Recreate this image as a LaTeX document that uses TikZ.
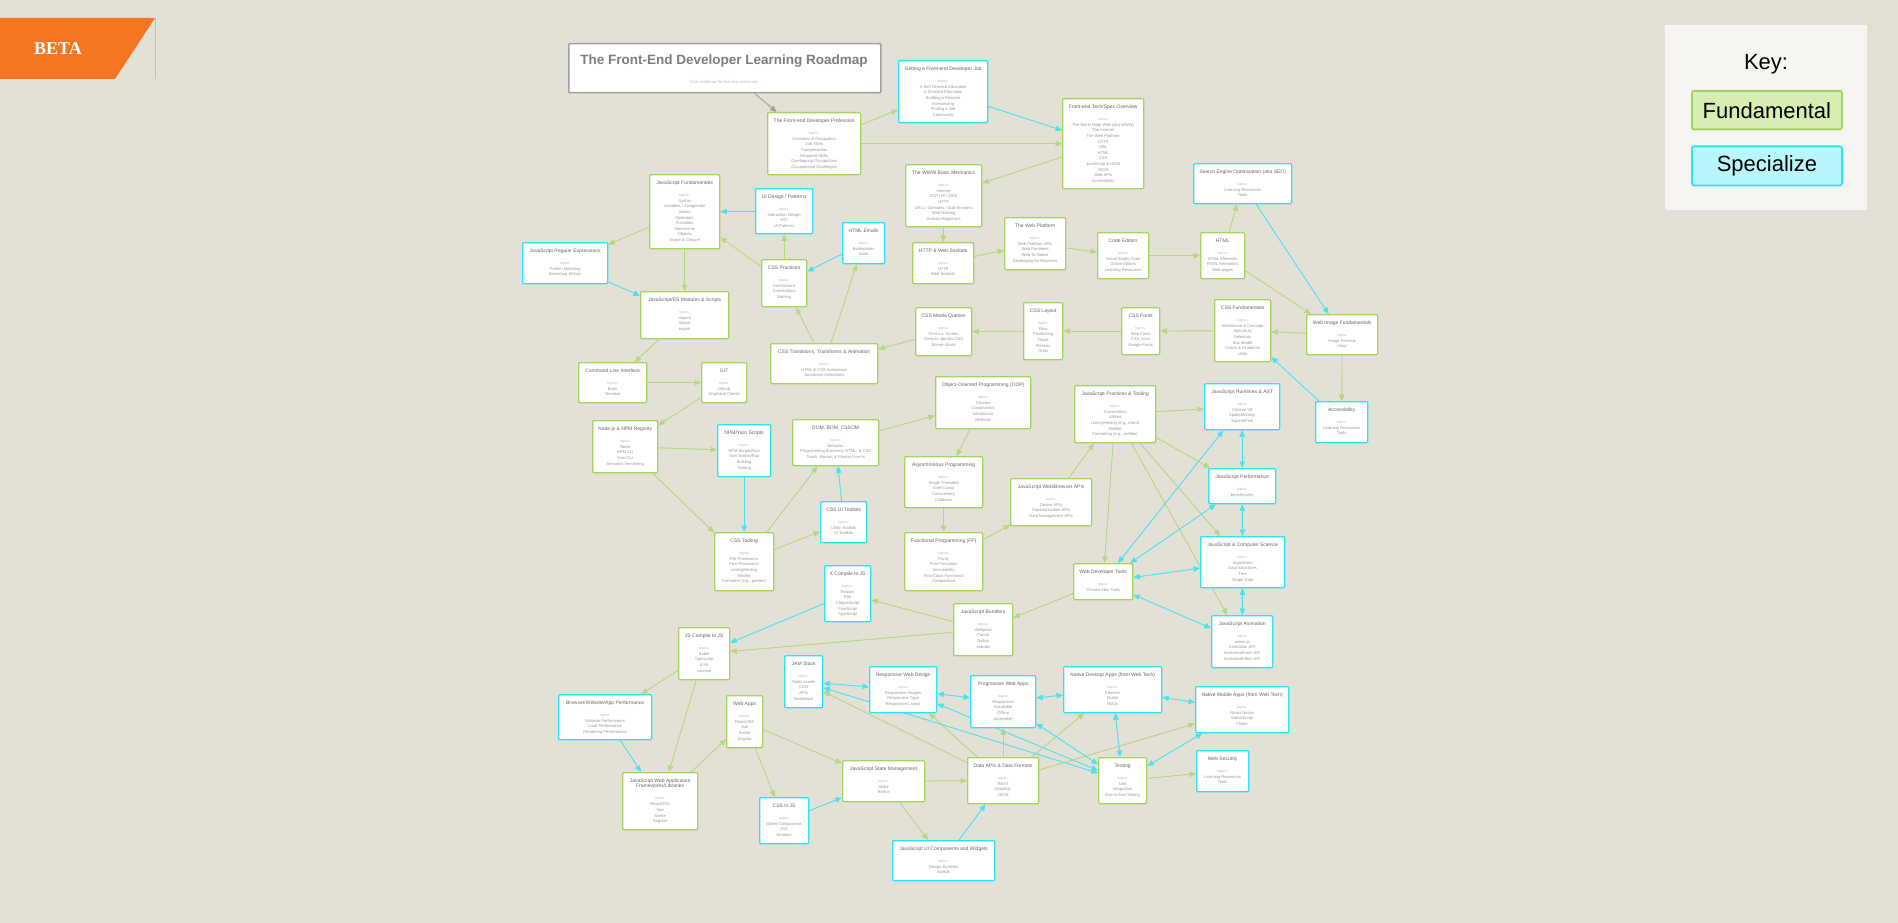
\documentclass[tikz,border=0pt]{standalone}
\usepackage{fontspec}
\setmainfont{Liberation Sans}
\newfontfamily\betafont{Liberation Serif}
\usetikzlibrary{arrows.meta}
\pgfdeclarelayer{canvas}
\pgfdeclarelayer{links}
\pgfsetlayers{canvas,links,main}

\definecolor{bgc}{RGB}{227,224,214}
\definecolor{keybg}{RGB}{246,245,241}
\definecolor{gbord}{RGB}{166,210,98}
\definecolor{cbord}{RGB}{40,228,245}
\definecolor{gedge}{RGB}{182,214,130}
\definecolor{cedge}{RGB}{72,226,240}
\definecolor{tedge}{RGB}{160,160,160}
\definecolor{ttlc}{RGB}{100,100,100}
\definecolor{tpcc}{RGB}{185,185,185}
\definecolor{itmc}{RGB}{150,150,150}
\definecolor{headc}{RGB}{125,125,125}
\definecolor{headb}{RGB}{160,160,160}
\definecolor{fundfill}{RGB}{214,238,178}
\definecolor{specfill}{RGB}{183,246,250}
\definecolor{betaorange}{RGB}{244,118,33}

% one roadmap card: style, name, x, y (top left), width, height, title, topics
\newcommand\rmnode[8]{%
  \node[#1, minimum width=#5pt, minimum height=#6pt] (#2) at (#3,#4)
    {\parbox[c][#6pt][t]{#5pt}{\centering\vspace*{6pt}%
      \fontsize{5}{5.5}\selectfont\color{ttlc}#7\par
      \fontsize{3.6}{12}\selectfont\color{tpcc}topics:\par\vspace{0.5pt}%
      \fontsize{4.1}{5.6}\selectfont\color{itmc}#8\par}};}

\begin{document}
\begin{tikzpicture}[x=1pt,y=-1pt,
  card/.style={draw, fill=white, line width=1.3pt, rounded corners=1pt,
    inner sep=0pt, anchor=north west},
  fund/.style={card, draw=gbord},
  spec/.style={card, draw=cbord},
  lk/.style={line width=0.9pt, -{Triangle[length=6.5pt,width=5.5pt]}},
  gl/.style={lk, draw=gedge},
  cl/.style={lk, draw=cedge},
  cd/.style={cl, {Triangle[length=6.5pt,width=5.5pt]}-{Triangle[length=6.5pt,width=5.5pt]}},
  tl/.style={lk, draw=tedge},
  keylabel/.style={font=\fontsize{22}{24}\selectfont, text=black}]

\begin{pgfonlayer}{canvas}
  \fill[bgc] (0,0) rectangle (1898,923);
\end{pgfonlayer}
\useasboundingbox (0,0) rectangle (1898,923);

% BETA ribbon
\fill[betaorange] (0,18) -- (155,18) -- (115,79) -- (0,79) -- cycle;
\draw[betaorange!60, line width=0.6pt] (155,18) -- (155,79);
\node[text=white, font=\betafont\bfseries\fontsize{18}{20}\selectfont] (beta) at (58,49) {BETA};

% key
\node[fill=keybg, minimum width=202pt, minimum height=185pt, inner sep=0pt, anchor=north west] (keybox) at (1665,25) {};
\node[keylabel] (keytitle) at (1766,64) {Key:};
\node[keylabel, draw=gbord, fill=fundfill, line width=1.8pt, rounded corners=2pt,
  minimum width=150pt, minimum height=38.5pt, inner sep=0pt, anchor=north west] (keyfund) at (1691,90) {Fundamental};
\node[keylabel, draw=cbord, fill=specfill, line width=1.8pt, rounded corners=2pt,
  minimum width=150pt, minimum height=39pt, inner sep=0pt, anchor=north west] (keyspec) at (1691,145.5) {Specialize};

% heading card
\node[draw=headb, fill=white, line width=1.5pt, rounded corners=1pt, minimum width=312pt,
  minimum height=49pt, inner sep=0pt, anchor=north west] (title) at (568,43) {};
\node[text=headc, font=\bfseries\fontsize{13.5}{15}\selectfont] (titletext) at (724,61) {The Front-End Developer Learning Roadmap};
\node[text=tpcc, font=\fontsize{4.2}{5}\selectfont] (subtitle) at (724,82) {Click roadmap for learning resources};

% cards
\rmnode{fund}{prof}{767}{112}{93}{62}{The Front-end Developer Profession}{Overview of Occupation\\Job Titles\\Compensation\\Required Skills\\Overlapping Occupations\\Occupational Challenges}
\rmnode{spec}{job}{898}{60}{89}{62}{Getting a Front-end Developer Job}{A Self Directed Education\\A Directed Education\\Building a Resume\\Interviewing\\Finding a Job\\Community}
\rmnode{fund}{tech}{1062}{98}{81}{90}{Front-end Tech/Spec Overview}{The World Wide Web (aka WWW)\\The Internet\\The Web Platform\\HTTP\\URL\\HTML\\CSS\\JavaScript \& DOM\\JSON\\Web APIs\\Accessibility}
\rmnode{fund}{www}{905}{164}{76}{62}{The WWW Basic Mechanics}{Internet\\TCP / IP / DNS\\HTTP\\URLs / Domains / Sub-Domains\\Web Hosting\\Domain Registrars}
\rmnode{fund}{jsfund}{649}{174}{70}{74}{JavaScript Fundamentals}{Syntax\\Variables / Assignment\\Values\\Operators\\Functions\\Statements\\Objects\\Scope \& Closure}
\rmnode{spec}{uidesign}{755}{188}{57}{45}{UI Design / Patterns}{Interaction Design\\HCI\\UI Patterns}
\rmnode{spec}{htmlemail}{842}{222}{42}{41}{HTML Emails}{Boilerplates\\tools}
\rmnode{spec}{regex}{522}{242}{85}{41}{JavaScript Regular Expressions}{Pattern Matching\\Searching Strings}
\rmnode{fund}{csspract}{761}{259}{45}{47}{CSS Practices}{Architecture\\Conventions\\Naming}
\rmnode{fund}{httpws}{912}{242}{61}{41}{HTTP \& Web Sockets}{HTTP\\Web Sockets}
\rmnode{fund}{webplat}{1004}{217}{61}{52}{The Web Platform}{Web Platform APIs\\Web Runtimes\\Web To Native\\Developing for Browsers}
\rmnode{fund}{codeed}{1097}{232}{51}{46}{Code Editors}{Visual Studio Code\\Online Editors\\Learning Resources}
\rmnode{fund}{html}{1200}{232}{44}{46}{HTML}{HTML Elements\\HTML Semantics\\Web pages}
\rmnode{spec}{seo}{1193}{163}{98}{40}{Search Engine Optimization (aka SEO)}{Learning Resources\\Tools}
\rmnode{fund}{modules}{640}{291}{88}{47}{JavaScript/ES Modules \& Scripts}{require\\import\\export}
\rmnode{fund}{csstrans}{770}{343}{107}{40}{CSS Transitions, Transforms \& Animation}{HTML \& CSS Animations\\JavaScript Animations}
\rmnode{fund}{mediaq}{915}{307}{56}{48}{CSS Media Queries}{Print v.s. Screen\\Devices specific CSS\\Screen Sizes}
\rmnode{fund}{csslayout}{1023}{302}{39}{57}{CSS Layout}{Flow\\Positioning\\Floats\\Flexbox\\Grids}
\rmnode{fund}{cssfonts}{1121}{307}{38}{47}{CSS Fonts}{Web Fonts\\CSS Icons\\Google Fonts}
\rmnode{fund}{cssfund}{1214}{299}{56}{62}{CSS Fundamentals}{Inheritance \& Cascade\\Specificity\\Selectors\\Box Model\\Colors \& Gradients\\Units}
\rmnode{fund}{webimg}{1306}{314}{71}{40}{Web Image Fundamentals}{Image Formats\\<img>}
\rmnode{fund}{cli}{578}{362}{68}{40}{Command Line Interface}{Bash\\Terminal}
\rmnode{fund}{git}{701}{362}{45}{40}{GIT}{Github\\Graphical Clients}
\rmnode{fund}{oop}{935}{376}{95}{52}{Object-Oriented Programming (OOP)}{Classes\\Constructors\\Inheritance\\Methods}
\rmnode{fund}{jsprac}{1074}{385}{81}{57}{JavaScript Practices \& Tooling}{Conventions\\Utilities\\Linting/Hinting (e.g., eslint)\\Minifier\\Formatting (e.g., prettier)}
\rmnode{spec}{runtimes}{1204}{383}{75}{46}{JavaScript Runtimes \& AST}{Chrome V8\\SpiderMonkey\\SquirrelFish}
\rmnode{spec}{a11y}{1315}{401}{52}{41}{Accessibility}{Learning Resources\\Tools}
\rmnode{fund}{node}{592}{420}{65}{52}{Node.js \& NPM Registry}{Node\\NPM CLI\\Yarn CLI\\Semantic Versioning}
\rmnode{spec}{npmyarn}{717}{424}{53}{52}{NPM/Yarn Scripts}{NPM Scripts/Run\\Yarn Scripts/Run\\Building\\Tasking}
\rmnode{fund}{dom}{792}{419}{86}{46}{DOM, BOM, CSSOM}{Behavior\\Programming Browsers, HTML, \& CSS\\Touch, Mouse, \& Pointer Events}
\rmnode{fund}{async}{904}{456}{78}{51}{Asynchronous Programming}{Single Threaded\\Event Loop\\Concurrency\\Callbacks}
\rmnode{fund}{webapis}{1010}{478}{81}{47}{JavaScript Web/Browser APIs}{Device APIs\\Communication APIs\\Data Management APIs}
\rmnode{spec}{perf}{1208}{468}{67}{35}{JavaScript Performance}{benchmarks}
\rmnode{spec}{uitool}{820}{501}{46}{41}{CSS UI Toolkits}{Utility Toolkits\\UI Toolkits}
\rmnode{fund}{csstool}{714}{532}{59}{58}{CSS Tooling}{Pre Processors\\Post Processors\\Linting/Hinting\\Minifier\\Formatter (e.g., prettier)}
\rmnode{fund}{fp}{904}{532}{78}{58}{Functional Programming (FP)}{Purity\\Pure Functions\\Immutability\\First-Class Functional\\Composition}
\rmnode{fund}{devtools}{1073}{563}{59}{36}{Web Developer Tools}{Chrome Dev Tools}
\rmnode{spec}{jscs}{1200}{536}{84}{51}{JavaScript \& Computer Science}{Algorithms\\Data Structures\\Tree\\Graph Data}
\rmnode{spec}{xcomp}{824}{565}{46}{56}{X Compile to JS}{Reason\\Elm\\ClojureScript\\PureScript\\TypeScript}
\rmnode{fund}{bundlers}{953}{603}{59}{52}{JavaScript Bundlers}{Webpack\\Parcel\\Rollup\\esbuild}
\rmnode{spec}{anim}{1211}{615}{61}{52}{JavaScript Animation}{anime.js\\Animation API\\AnimationEvent API\\AnimationEffect API}
\rmnode{fund}{jscomp}{678}{627}{51}{52}{JS Compile to JS}{Babel\\Typescript\\tc39\\sucrase}
\rmnode{spec}{jam}{784}{655}{38}{52}{JAM Stack}{Static assets\\CDN\\APIs\\Markdown}
\rmnode{spec}{rwd}{869}{666}{67}{46}{Responsive Web Design}{Responsive Images\\Responsive Type\\Responsive Layout}
\rmnode{spec}{pwa}{970}{675}{65}{52}{Progressive Web Apps}{Responsive\\Installable\\Offline\\accessible}
\rmnode{spec}{desktop}{1063}{666}{98}{46}{Native Desktop Apps (from Web Tech)}{Electron\\Flutter\\NW.js}
\rmnode{spec}{mobile}{1195}{686}{93}{46}{Native Mobile Apps (from Web Tech)}{React Native\\NativeScript\\Flutter}
\rmnode{spec}{perfbrowser}{558}{694}{93}{45}{Browser/Website/App Performance}{Website Performance\\Load Performance\\Rendering Performance}
\rmnode{fund}{webapps}{726}{695}{36}{52}{Web Apps}{React/JSX\\Vue\\Svelte\\Angular}
\rmnode{fund}{statem}{842}{760}{82}{41}{JavaScript State Management}{Mobx\\Redux}
\rmnode{fund}{dataapi}{967}{757}{71}{46}{Data APIs \& Data Formats}{REST\\GraphQL\\JSON}
\rmnode{fund}{testing}{1098}{757}{48}{46}{Testing}{Unit\\Integration\\End to End Testing}
\rmnode{spec}{websec}{1196}{750}{52}{41}{Web Security}{Learning Resources\\Tools}
\rmnode{fund}{frameworks}{622}{772}{75}{57}{JavaScript Web Application\\Frameworks/Libraries}{React/JSX\\Vue\\Svelte\\Angular}
\rmnode{spec}{cssinjs}{759}{797}{49}{46}{CSS in JS}{Styled Components\\JSS\\Emotion}
\rmnode{spec}{uicomp}{892}{840}{102}{40}{JavaScript UI Components and Widgets}{Design Systems\\toolkits}

\begin{pgfonlayer}{links}
  \draw[tl] (title) -- (prof);
  % fundamental paths
  \draw[gl] (prof) -- (job);
  \draw[gl] (prof) -- (tech);
  \draw[gl] (tech) -- (www);
  \draw[gl] (www) -- (httpws);
  \draw[gl] (httpws) -- (webplat);
  \draw[gl] (webplat) -- (codeed);
  \draw[gl] (codeed) -- (html);
  \draw[gl] (html) -- (seo);
  \draw[gl] (html) -- (webimg);
  \draw[gl] (webimg) -- (cssfund);
  \draw[gl] (webimg) -- (a11y);
  \draw[gl] (cssfund) -- (cssfonts);
  \draw[gl] (cssfonts) -- (csslayout);
  \draw[gl] (csslayout) -- (mediaq);
  \draw[gl] (mediaq) -- (csstrans);
  \draw[gl] (csstrans) -- (csspract);
  \draw[gl] (csstrans) -- (htmlemail);
  \draw[gl] (csspract) -- (uidesign);
  \draw[gl] (csspract) -- (jsfund);
  \draw[gl] (jsfund) -- (regex);
  \draw[gl] (jsfund) -- (modules);
  \draw[gl] (modules) -- (cli);
  \draw[gl] (cli) -- (git);
  \draw[gl] (git) -- (node);
  \draw[gl] (node) -- (npmyarn);
  \draw[gl] (node) -- (csstool);
  \draw[gl] (csstool) -- (dom);
  \draw[gl] (csstool) -- (uitool);
  \draw[gl] (dom) -- (oop);
  \draw[gl] (oop) -- (async);
  \draw[gl] (async) -- (fp);
  \draw[gl] (fp) -- (webapis);
  \draw[gl] (webapis) -- (jsprac);
  \draw[gl] (jsprac) -- (runtimes);
  \draw[gl] (jsprac) -- (perf);
  \draw[gl] (jsprac) -- (jscs);
  \draw[gl] (jsprac) -- (anim);
  \draw[gl] (jsprac) -- (devtools);
  \draw[gl] (devtools) -- (bundlers);
  \draw[gl] (bundlers) -- (xcomp);
  \draw[gl] (bundlers) -- (jscomp);
  \draw[gl] (jscomp) -- (perfbrowser);
  \draw[gl] (jscomp) -- (frameworks);
  \draw[gl] (frameworks) -- (webapps);
  \draw[gl] (webapps) -- (cssinjs);
  \draw[gl] (webapps) -- (statem);
  \draw[gl] (statem) -- (dataapi);
  \draw[gl] (statem) -- (uicomp);
  \draw[gl] (dataapi) -- (rwd);
  \draw[gl] (dataapi) -- (pwa);
  \draw[gl] (dataapi) -- (desktop);
  \draw[gl] (dataapi) -- (jam);
  \draw[gl] (dataapi) -- (mobile);
  \draw[gl] (testing) -- (websec);
  % specialization paths
  \draw[cl] (job) -- (tech);
  \draw[cl] (seo) -- (webimg);
  \draw[cl] (htmlemail) -- (csspract);
  \draw[cl] (uidesign) -- (jsfund);
  \draw[cl] (regex) -- (modules);
  \draw[cl] (npmyarn) -- (csstool);
  \draw[cl] (uitool) -- (dom);
  \draw[cl] (a11y) -- (cssfund);
  \draw[cl] (xcomp) -- (jscomp);
  \draw[cl] (perfbrowser) -- (frameworks);
  \draw[cl] (cssinjs) -- (statem);
  \draw[cl] (uicomp) -- (dataapi);
  \draw[cd] (runtimes) -- (perf);
  \draw[cd] (perf) -- (jscs);
  \draw[cd] (jscs) -- (anim);
  \draw[cd] (runtimes) -- (devtools);
  \draw[cd] (perf) -- (devtools);
  \draw[cd] (jscs) -- (devtools);
  \draw[cd] (devtools) -- (anim);
  \draw[cd] (jam) -- (rwd);
  \draw[cd] (rwd) -- (pwa);
  \draw[cd] (pwa) -- (desktop);
  \draw[cd] (desktop) -- (mobile);
  \draw[cd] (desktop) -- (testing);
  \draw[cd] (mobile) -- (testing);
  \draw[cd] (testing) -- (jam);
  \draw[cd] (testing) -- (rwd);
  \draw[cd] (testing) -- (pwa);
\end{pgfonlayer}
\end{tikzpicture}
\end{document}
